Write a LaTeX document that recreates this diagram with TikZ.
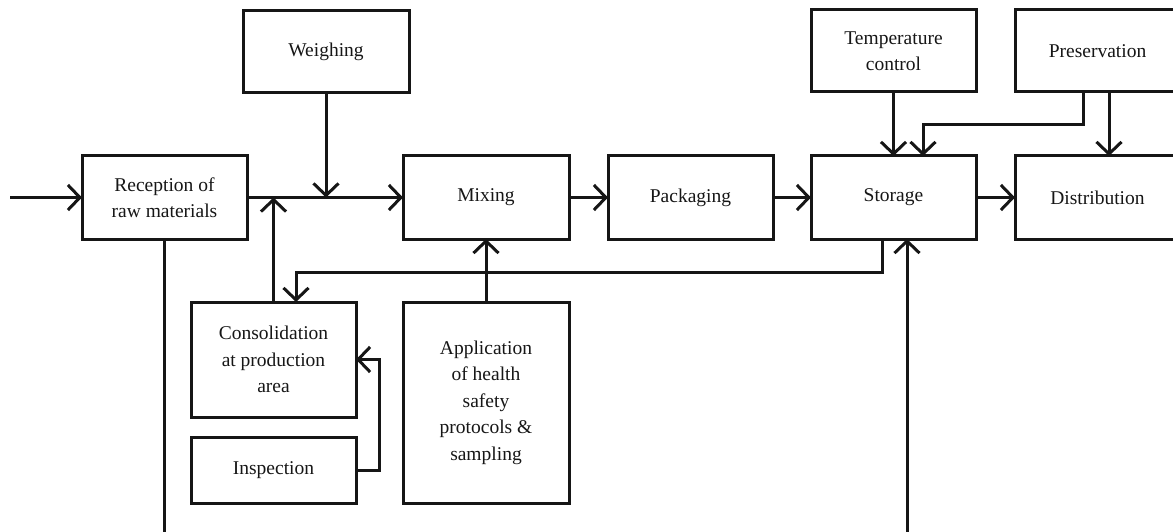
\documentclass[tikz,border=0pt]{standalone}
\usepackage{fontspec}
\setmainfont{Liberation Serif}
\usetikzlibrary{arrows.meta}
\definecolor{ink}{HTML}{161616}
\begin{document}
\begin{tikzpicture}[x=1pt,y=-1pt,
  box/.style={draw=ink,line width=3pt,rectangle,outer sep=0pt,inner sep=2pt,
    align=center,text=ink,font=\fontsize{19.5}{26.5}\selectfont},
  link/.style={draw=ink,line width=3pt},
  arr/.style={link,-{Straight Barb[length=12pt,width=25pt,line width=3pt]}}]
\useasboundingbox (0,0) rectangle (1173,532);
\clip (0,0) rectangle (1173,532);

% process boxes
\node[box,minimum width=165pt,minimum height=83pt] (rec) at (164.5,197.5) {Reception of\\raw materials};
\node[box,minimum width=166pt,minimum height=82pt] (weigh) at (326,52) {Weighing};
\node[box,minimum width=166pt,minimum height=83pt] (mix) at (486,197.5) {Mixing};
\node[box,minimum width=165pt,minimum height=83pt] (pack) at (690.5,197.5) {Packaging};
\node[box,minimum width=165pt,minimum height=83pt] (stor) at (893.5,197.5) {Storage};
\node[box,minimum width=165pt,minimum height=83pt] (dist) at (1097.5,197.5) {Distribution};
\node[box,minimum width=165pt,minimum height=82pt] (temp) at (893.5,51) {Temperature\\control};
\node[box,minimum width=165pt,minimum height=82pt] (pres) at (1097.5,51) {Preservation};
\node[box,minimum width=165pt,minimum height=115pt] (cons) at (273.5,359.5) {Consolidation\\at production\\area};
\node[box,minimum width=165pt,minimum height=66pt] (insp) at (273.5,470) {Inspection};
\node[box,minimum width=166pt,minimum height=201pt] (app) at (486,402.5) {Application\\of health\\safety\\protocols \&\\sampling};

% free ends
\coordinate (in) at (10,197.5);
\coordinate (recout) at (164.5,545);
\coordinate (storin) at (907,545);

% main flow
\draw[arr] (in) -- (rec.west);
\draw[arr] (rec.east) -- (mix.west);
\draw[arr] (mix.east) -- (pack.west);
\draw[arr] (pack.east) -- (stor.west);
\draw[arr] (stor.east) -- (dist.west);

% side inputs
\draw[arr] (weigh.south) -- (weigh.south |- rec.east);
\draw[arr] (cons.north) -- (cons.north |- rec.east);
\draw[arr] (temp.south) -- (stor.north);
\draw[arr] ([xshift=11.5pt]pres.south) -- ([xshift=11.5pt]dist.north);
\draw[arr] ([xshift=-14.5pt]pres.south) |- (923,125) -- ([xshift=29.5pt]stor.north);
\draw[arr] ([xshift=-11.5pt]stor.south) |- (296,272) -- ([xshift=22.5pt]cons.north);
\draw[arr] (app.north) -- (mix.south);
\draw[arr] (insp.east) -| (379,359.5) -- (cons.east);

% lines leaving the lower edge
\draw[link] (rec.south) -- (recout);
\draw[arr] (storin) -- ([xshift=13.5pt]stor.south);
\end{tikzpicture}
\end{document}
